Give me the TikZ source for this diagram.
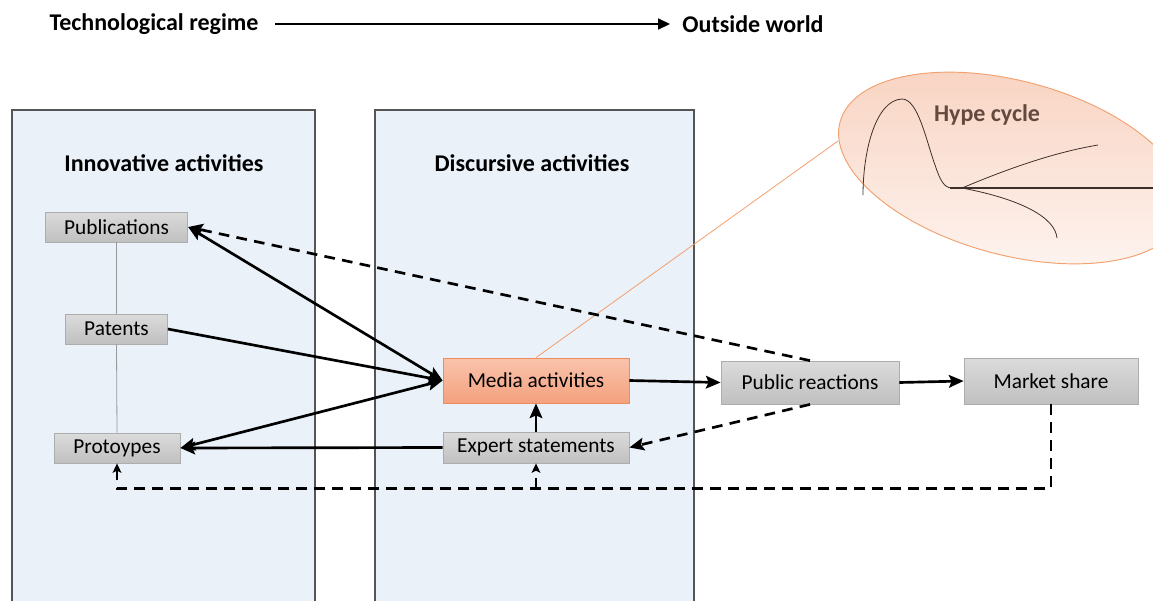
\documentclass[tikz,border=0pt]{standalone}
\usepackage{fontspec}
\setmainfont{Carlito}
\usetikzlibrary{arrows.meta,calc,shapes.geometric}

\definecolor{panelfill}{HTML}{EAF1F9}
\definecolor{panelline}{HTML}{555555}
\definecolor{boxtop}{HTML}{DBDBDB}
\definecolor{boxbot}{HTML}{C0C0C0}
\definecolor{boxline}{HTML}{ADADAD}
\definecolor{mediatop}{HTML}{F9C4AC}
\definecolor{mediabot}{HTML}{F4A07E}
\definecolor{medialine}{HTML}{EE8C5C}
\definecolor{hypetop}{HTML}{F8D2C0}
\definecolor{hypebot}{HTML}{FEF5F1}
\definecolor{hypeline}{HTML}{F2A06E}
\definecolor{hypetext}{HTML}{644A3E}
\definecolor{curve}{HTML}{3F302B}

\tikzset{
  graybox/.style={draw=boxline, line width=0.6pt, top color=boxtop, bottom color=boxbot,
    inner sep=0pt, font=\fontsize{16}{19}\selectfont},
  mediabox/.style={draw=medialine, line width=0.6pt, top color=mediatop, bottom color=mediabot,
    inner sep=0pt, font=\fontsize{16}{19}\selectfont},
  panel/.style={draw=panelline, fill=panelfill, line width=1.1pt},
  heading/.style={font=\bfseries\fontsize{18}{21}\selectfont, inner sep=0pt},
  tip/.style={Stealth[length=11pt,width=9.5pt,inset=2pt]},
  flow/.style={line width=2pt, -{Stealth[length=11pt,width=9.5pt,inset=2pt]}},
  flowboth/.style={line width=2pt, {Stealth[length=11pt,width=9.5pt,inset=2pt]}-{Stealth[length=11pt,width=9.5pt,inset=2pt]}},
  feedback/.style={line width=2pt, dash pattern=on 8pt off 5.5pt, -{Stealth[length=11pt,width=9.5pt,inset=2pt]}},
  feedsmall/.style={line width=2pt, dash pattern=on 8pt off 5.5pt, -{Stealth[length=7pt,width=6.5pt,inset=1.5pt]}},
  link/.style={draw=gray!80, line width=0.6pt},
}

\begin{document}
\begin{tikzpicture}[x=0.75pt, y=-0.75pt]
\useasboundingbox (0,0) rectangle (1153,600);

% header: regime -> outside world
\node[heading] (regime) at (154,24) {Technological regime};
\node[heading] (world) at (753,24) {Outside world};
\draw[line width=1.7pt, -{Triangle[length=9pt,width=8pt]}, shorten <=12.5pt, shorten >=9pt]
  (regime.east) -- (world.west);

% activity panels
\draw[panel] (12,110) rectangle (315,602);
\draw[panel] (375,110) rectangle (694,602);
\node[heading] (innov) at (164,163) {Innovative activities};
\node[heading] (discur) at (532,163) {Discursive activities};

% hype cycle inset
\shade[top color=hypetop, bottom color=hypebot, draw=hypeline, line width=0.7pt,
  rotate around={-15:(1012,168)}] (1012,168) ellipse [x radius=178, y radius=87];
\node[font=\bfseries\fontsize{18}{21}\selectfont, text=hypetext] (hypetitle) at (987,115) {Hype cycle};
\draw[curve, line width=0.6pt]
  (863,195) .. controls (863,150) and (876,100) .. (902,99)
  .. controls (918,99) and (926,140) .. (935,165)
  .. controls (940,180) and (944,188) .. (952,188);
\draw[curve, line width=1.5pt] (950,188) -- (1160,188);
\draw[curve, line width=0.6pt] (962,188) .. controls (1000,172) and (1050,153) .. (1098,145);
\draw[curve, line width=0.6pt] (962,188) .. controls (1020,199) and (1055,217) .. (1057,238);
\coordinate (hypeedge) at (838,141);

% boxes
\node[graybox, minimum width=107pt, minimum height=22.5pt] (pub) at (116.5,227) {Publications};
\node[graybox, minimum width=76.5pt, minimum height=22.5pt] (pat) at (116.5,329) {Patents};
\node[graybox, minimum width=94.5pt, minimum height=22.5pt] (proto) at (117,448) {Protoypes};
\node[mediabox, minimum width=139.5pt, minimum height=33.75pt] (media) at (536,380.5) {Media activities};
\node[graybox, minimum width=139.5pt, minimum height=23.25pt] (expert) at (536,447.5) {Expert statements};
\node[graybox, minimum width=133.5pt, minimum height=32.25pt] (public) at (810,382.5) {Public reactions};
\node[graybox, minimum width=130.5pt, minimum height=34.5pt] (market) at (1051,381) {Market share};

% links inside the innovation column
\draw[link] (pub.south) -- (pat.north);
\draw[link] (pat.south) -- (proto.north);

% zoom line to the inset
\draw[hypeline, line width=0.6pt] (media.north) -- (hypeedge);

% main flows
\draw[flowboth] (pub.east) -- (media.west);
\draw[flow] (pat.east) -- (media.west);
\draw[flowboth] (proto.east) -- (media.west);
\draw[flow] (expert.west) -- (proto.east);
\draw[flow] (expert.north) -- (media.south);
\draw[flow] (media.east) -- (public.west);
\draw[flow] (public.east) -- (market.west);

% feedback loops
\draw[feedback] (public.north) -- (pub.east);
\draw[feedback] (public.south) -- (expert.east);
\coordinate (loopcorner) at ($(market.south)+(0,84)$);
\draw[feedsmall] (market.south) -- (loopcorner) -| (proto.south);
\draw[feedsmall] (expert.south |- loopcorner) -- (expert.south);
\end{tikzpicture}
\end{document}
